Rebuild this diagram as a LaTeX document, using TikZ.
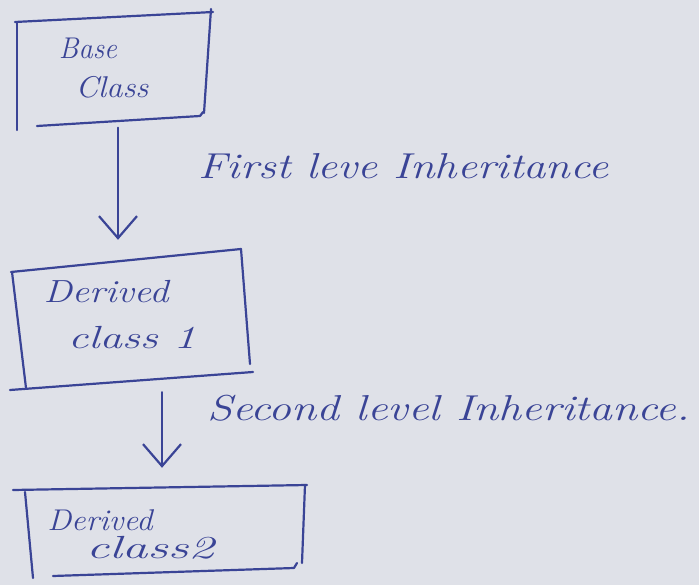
\documentclass[tikz,border=0pt]{standalone}
\usepackage{graphicx}
\usetikzlibrary{arrows.meta}
\definecolor{paper}{RGB}{223,225,232}
\definecolor{pen}{RGB}{58,68,150}
% handwritten-looking text: size, horizontal stretch, text
\newcommand{\penwrite}[3]{\scalebox{#2}[1]{\fontsize{#1}{#1}\selectfont #3}}
\tikzset{
  stroke/.style={draw=pen, line width=2.2pt, line cap=round, line join=round},
  boxarea/.style={draw=none, inner sep=0pt},
  hand/.style={text=pen, font=\itshape, inner sep=0pt},
  inherit/.style={stroke, -{Straight Barb[length=22pt,width=38pt]}},
}
\begin{document}
\begin{tikzpicture}[x=1pt,y=-1pt]
\path[use as bounding box, fill=paper] (0,0) rectangle (699,585);

% class boxes (areas used as connector anchors)
\node[boxarea, minimum width=190pt, minimum height=105pt] (base) at (113,70) {};
\node[boxarea, minimum width=228pt, minimum height=120pt] (der1) at (128,318) {};
\node[boxarea, minimum width=280pt, minimum height=80pt] (der2) at (165,528) {};

% hand-drawn sides of the base class box
\draw[stroke] (15,22) -- (213,12);
\draw[stroke] (17,23) -- (17,130);
\draw[stroke] (211,9) -- (204,113);
\draw[stroke] (37,126) -- (200,116) -- (203,112);

% sides of derived class 1
\draw[stroke] (11,272) -- (241,249);
\draw[stroke] (12,272) -- (26,388);
\draw[stroke] (241,249) -- (250,364);
\draw[stroke] (10,390) -- (253,372);

% sides of derived class 2
\draw[stroke] (13,490) -- (307,485);
\draw[stroke] (25,492) -- (33,578);
\draw[stroke] (305,485) -- (302,563);
\draw[stroke] (53,576) -- (294,568) -- (297,563);

% box texts
\node[hand] (base-a) at (88,48) {\penwrite{30}{0.95}{Base}};
\node[hand] (base-b) at (112,87) {\penwrite{30}{1.08}{Class}};
\node[hand] (der1-a) at (106,292) {\penwrite{32}{1.2}{Derived}};
\node[hand] (der1-b) at (132,338) {\penwrite{32}{1.4}{class 1}};
\node[hand] (der2-a) at (100,520) {\penwrite{30}{1.08}{Derived}};
\node[hand] (der2-b) at (150,548) {\penwrite{32}{1.6}{class2}};

% inheritance arrows
\draw[inherit, shorten <=5pt, shorten >=18pt]
  ([xshift=5pt]base.south) -- ([xshift=5pt]base.south |- der1.north);
\draw[inherit, shorten <=14pt, shorten >=20pt]
  ([xshift=34pt]der1.south) -- ([xshift=34pt]der1.south |- der2.north);

% arrow labels
\node[hand, anchor=west] (lvl1) at (198,166) {\penwrite{36}{1.24}{First leve Inheritance}};
\node[hand, anchor=west] (lvl2) at (207,408) {\penwrite{36}{1.27}{Second level Inheritance.}};
\end{tikzpicture}
\end{document}
